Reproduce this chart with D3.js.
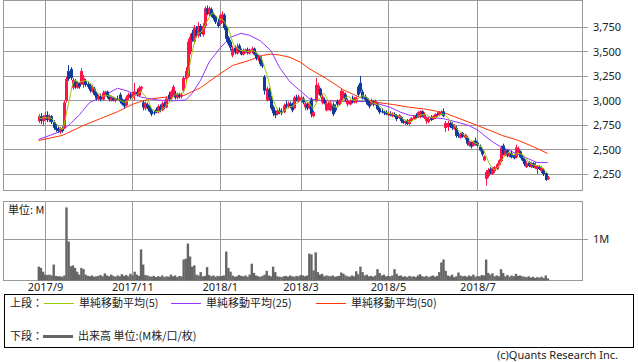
<!DOCTYPE html>
<html>
<head>
<meta charset="utf-8">
<script src="https://cdn.jsdelivr.net/npm/d3@7"></script>
<style>
  body { margin: 0; background: #fff; }
  svg { display: block; }
  text { font-family: "Noto Sans", "Noto Sans CJK JP", sans-serif; font-size: 11px; fill: #222; }
  .jp { font-family: "Noto Sans CJK JP", "Noto Sans", sans-serif; }
</style>
<title>chart</title>
</head>
<body>
<div id="chart"></div>
<script>
// daily bars, 2017/8/29 - 2018/8/17 (index = trading day)
var open = [
  2790,2840,2790,2830,2850,2800,2840,2780,2720,2710,
  2680,2715,2720,3000,3300,3320,3130,3200,3130,3180,
  3170,3160,3200,3170,3150,3090,3120,3070,3020,3040,
  3010,3060,3090,3040,3000,3030,3000,3020,3060,3010,
  3000,2950,3030,3060,3030,3050,3090,3050,3120,2980,
  2920,2960,2940,2900,2880,2910,2880,2940,2900,2970,
  2930,3060,3020,3060,3070,3030,3060,3040,3100,3220,
  3250,3500,3690,3600,3720,3660,3760,3670,3760,3940,
  3880,3930,3880,3860,3800,3780,3820,3870,3740,3640,
  3600,3460,3540,3480,3560,3510,3470,3490,3520,3480,
  3500,3530,3470,3420,3450,3370,3240,3000,3110,3030,
  2930,2880,2860,2900,2890,2880,2960,2940,2970,2960,
  2920,3030,2990,3000,3020,2930,2960,2920,3010,2840,
  2990,3080,3120,2980,3010,2900,2920,2900,2960,2930,
  2990,2960,3000,3040,3060,2960,2960,3000,2980,3000,
  3140,3180,3090,3040,3020,2980,2960,2990,2960,2960,
  2920,2890,2880,2880,2850,2870,2840,2860,2850,2820,
  2830,2790,2770,2790,2760,2790,2810,2850,2830,2840,
  2890,2820,2790,2780,2830,2810,2820,2860,2850,2860,
  2890,2720,2730,2770,2760,2710,2720,2660,2620,2670,
  2620,2620,2540,2570,2540,2590,2570,2530,2490,2390,
  2200,2230,2300,2250,2280,2300,2340,2380,2540,2440,
  2490,2430,2460,2440,2420,2470,2480,2420,2400,2320,
  2370,2320,2360,2310,2300,2320,2280,2290,2260,2200
];
var high = [
  2860,2870,2850,2880,2890,2860,2850,2800,2760,2740,
  2730,2740,3000,3240,3360,3340,3230,3220,3200,3190,
  3330,3260,3220,3190,3170,3160,3140,3090,3060,3070,
  3100,3100,3100,3060,3050,3040,3030,3050,3080,3020,
  3010,3050,3080,3080,3090,3180,3120,3150,3150,3000,
  2990,2980,2950,2920,2900,2930,2960,2960,2990,2990,
  3040,3090,3110,3160,3100,3080,3080,3080,3250,3340,
  3630,3680,3720,3770,3760,3800,3780,3790,3960,3970,
  3960,3950,3900,3870,3830,3880,3910,3890,3760,3660,
  3620,3560,3560,3580,3580,3530,3530,3530,3540,3530,
  3550,3540,3490,3470,3460,3400,3260,3140,3130,3050,
  2950,2900,2920,2930,2920,2970,3000,2990,2990,2980,
  3050,3060,3060,3050,3040,2990,2980,2990,3030,2900,
  3230,3180,3130,3070,3030,2990,2990,3000,2980,2960,
  3010,3010,3120,3100,3080,3020,3010,3050,3040,3040,
  3160,3250,3110,3060,3030,3000,3020,3000,3010,2980,
  2930,2920,2900,2900,2890,2890,2880,2880,2860,2860,
  2840,2810,2800,2810,2810,2830,2850,2870,2890,2900,
  2900,2880,2830,2830,2850,2850,2870,2880,2890,2900,
  2920,2790,2790,2790,2780,2760,2740,2680,2670,2680,
  2660,2640,2590,2580,2590,2620,2580,2550,2510,2440,
  2290,2310,2320,2320,2330,2360,2400,2540,2560,2510,
  2500,2470,2490,2450,2550,2530,2490,2440,2410,2380,
  2380,2370,2370,2370,2340,2340,2330,2310,2270,2230
];
var low = [
  2770,2760,2740,2800,2780,2780,2760,2700,2680,2670,
  2660,2670,2710,2980,3200,3210,3110,3120,3120,3120,
  3160,3130,3140,3120,3080,3080,3050,3000,3000,2990,
  3000,3040,3020,2990,2990,2990,2980,3000,2970,2950,
  2920,2940,3000,3010,3020,3000,3040,3040,3090,2900,
  2900,2910,2880,2840,2850,2870,2870,2880,2890,2910,
  2920,3000,3000,3040,3010,3010,3020,3020,3080,3180,
  3230,3470,3600,3580,3640,3640,3650,3650,3740,3870,
  3860,3850,3820,3780,3740,3770,3790,3720,3600,3560,
  3510,3440,3470,3470,3490,3460,3460,3480,3470,3470,
  3480,3460,3410,3400,3350,3330,3060,2990,3000,2900,
  2840,2820,2850,2860,2850,2870,2920,2920,2920,2880,
  2910,2990,2980,2980,2960,2900,2900,2910,2830,2830,
  2980,3060,3030,2960,2960,2890,2900,2890,2840,2880,
  2940,2950,2990,3020,2990,2940,2950,2970,2970,2970,
  3040,3080,3010,2990,2950,2920,2950,2940,2950,2900,
  2860,2870,2850,2850,2840,2840,2830,2830,2790,2810,
  2770,2760,2750,2750,2750,2780,2800,2810,2820,2820,
  2830,2810,2760,2770,2790,2800,2810,2840,2840,2850,
  2830,2680,2690,2720,2700,2700,2620,2620,2610,2620,
  2600,2540,2530,2510,2530,2540,2530,2480,2430,2380,
  2130,2210,2250,2240,2260,2290,2330,2370,2440,2430,
  2420,2420,2410,2400,2410,2460,2410,2380,2330,2310,
  2320,2310,2310,2300,2250,2290,2260,2230,2180,2190
];
var close = [
  2840,2790,2830,2850,2800,2840,2780,2720,2700,2690,
  2715,2690,2980,3220,3220,3230,3210,3140,3180,3140,
  3300,3230,3160,3140,3100,3140,3060,3020,3045,3010,
  3080,3090,3040,3010,3030,3000,3020,3005,2990,2960,
  2940,3030,3060,3030,3070,3090,3060,3130,3140,2930,
  2970,2930,2890,2860,2870,2880,2940,2900,2970,2930,
  3020,3010,3090,3140,3030,3060,3040,3060,3230,3300,
  3600,3650,3620,3740,3660,3760,3680,3760,3940,3890,
  3940,3870,3840,3800,3760,3870,3880,3740,3630,3580,
  3540,3530,3490,3550,3510,3470,3510,3520,3490,3520,
  3530,3470,3430,3450,3370,3350,3100,3120,3030,2920,
  2870,2850,2900,2880,2870,2950,2940,2970,2940,2900,
  3030,3000,3040,3030,2980,2970,2920,2970,2860,2880,
  3160,3150,3050,3040,2970,2970,2960,2980,2860,2900,
  2960,3000,3100,3080,3010,3000,2990,2980,3030,3020,
  3060,3100,3030,3010,2960,2940,3000,2960,2990,2910,
  2880,2880,2870,2860,2870,2850,2865,2840,2810,2850,
  2790,2770,2790,2760,2800,2820,2840,2820,2880,2890,
  2840,2860,2820,2810,2800,2840,2860,2850,2880,2880,
  2840,2770,2770,2740,2720,2740,2640,2640,2660,2630,
  2650,2560,2580,2530,2580,2560,2540,2490,2450,2430,
  2270,2290,2270,2310,2320,2350,2390,2520,2460,2490,
  2440,2460,2420,2410,2520,2510,2420,2390,2350,2360,
  2330,2360,2320,2340,2330,2300,2310,2250,2190,2215
];
// volume, millions
var volume = [
  .33,.30,.21,.14,.13,.14,.12,.38,.11,.10,
  .10,.09,.12,1.74,.93,.34,.36,.30,.21,.14,
  .30,.27,.14,.11,.10,.12,.09,.10,.11,.13,
  .10,.17,.12,.10,.14,.11,.09,.12,.10,.15,
  .11,.13,.10,.16,.12,.21,.14,.11,.74,.38,
  .13,.12,.10,.09,.11,.08,.10,.09,.12,.08,
  .10,.09,.14,.10,.12,.08,.11,.10,.50,.52,
  .88,.57,.33,.36,.14,.12,.20,.10,.11,.32,
  .13,.10,.12,.09,.11,.10,.11,.12,.69,.30,
  .21,.12,.09,.10,.13,.11,.10,.12,.09,.14,
  .40,.18,.12,.10,.09,.11,.14,.23,.12,.10,
  .33,.20,.10,.09,.08,.10,.11,.09,.12,.10,
  .09,.11,.10,.13,.12,.10,.12,.64,.62,.24,
  .67,.20,.14,.16,.10,.12,.11,.10,.12,.09,
  .10,.11,.19,.16,.12,.10,.09,.12,.10,.22,
  .15,.33,.20,.12,.14,.10,.11,.09,.12,.27,
  .18,.12,.14,.10,.11,.10,.12,.27,.16,.11,
  .12,.09,.10,.08,.11,.09,.10,.08,.12,.15,
  .10,.09,.11,.08,.10,.12,.09,.11,.20,.43,
  .50,.23,.12,.10,.14,.08,.10,.19,.12,.10,
  .11,.09,.12,.10,.14,.09,.11,.10,.13,.12,
  .50,.18,.14,.17,.10,.12,.10,.27,.18,.10,
  .13,.09,.12,.10,.16,.11,.12,.10,.09,.08,
  .10,.07,.09,.06,.08,.07,.09,.06,.12,.05
];
// moving averages at these bar indices
var ma25Idx = [0,11,15,19,24,29,37,42,48,56,62,69,72,76,80,85,90,95,99,104,109,113,118,123,127,132,143,155,159,165,170,174,180,190,198,202,206,210,213,217,221,224,230,234,239];
var ma25 = [2602,2690,2765,2850,2980,3030,3125,3095,3035,3005,2995,3005,3070,3205,3390,3530,3645,3685,3665,3610,3510,3340,3190,3095,3020,3000,2990,2990,2970,2930,2880,2850,2835,2815,2770,2745,2700,2630,2580,2525,2490,2460,2405,2367,2367];
var ma50Idx = [0,11,13,21,29,37,44,48,52,60,68,76,84,91,99,105,109,113,118,123,127,135,143,151,159,166,174,182,190,198,206,213,218,225,232,239];
var ma50 = [2592,2643,2662,2745,2815,2885,2960,2990,3015,3035,3050,3130,3255,3357,3410,3460,3472,3465,3440,3390,3325,3225,3110,3030,2980,2960,2932,2910,2878,2812,2745,2685,2640,2595,2530,2460];

var monthIdx = [3,44,85,123,164,206];
var monthLabels = ["2017/9","2017/11","2018/1","2018/3","2018/5","2018/7"];
var priceTicks = [2250,2500,2750,3000,3250,3500,3750];

var W = 638, H = 362;
var left = 3.5, right = 582.5;
var pTop = 0.5, pBot = 190.5, vTop = 201.5, vBot = 280.5;

var x = d3.scaleLinear().domain([0, 239]).range([38.6, 547.7]);
var y = d3.scaleLinear().domain([2081.6, 4020.4]).range([pBot, pTop]);
var yv = d3.scaleLinear().domain([0, 1.881]).range([vBot, vTop]);

var svg = d3.select("#chart").append("svg")
    .attr("width", W)
    .attr("height", H);

svg.append("rect").attr("width", W).attr("height", H).attr("fill", "#fff");

var grid = "#9a9a9a";

// price panel grid
svg.selectAll("line.hy").data(priceTicks).enter().append("line")
    .attr("x1", left).attr("x2", 588)
    .attr("y1", function (d) { return Math.round(y(d)) + 0.5; })
    .attr("y2", function (d) { return Math.round(y(d)) + 0.5; })
    .attr("stroke", grid);

svg.selectAll("line.vx").data(monthIdx).enter().append("line")
    .attr("x1", function (d) { return Math.round(x(d)) + 0.5; })
    .attr("x2", function (d) { return Math.round(x(d)) + 0.5; })
    .attr("y1", pTop).attr("y2", pBot)
    .attr("stroke", grid);

svg.append("rect")
    .attr("x", left).attr("y", pTop)
    .attr("width", right - left).attr("height", pBot - pTop)
    .attr("fill", "none").attr("stroke", grid);

// volume panel grid
svg.append("line")
    .attr("x1", left).attr("x2", 588)
    .attr("y1", Math.round(yv(1)) + 0.5).attr("y2", Math.round(yv(1)) + 0.5)
    .attr("stroke", grid);

svg.selectAll("line.vv").data(monthIdx).enter().append("line")
    .attr("x1", function (d) { return Math.round(x(d)) + 0.5; })
    .attr("x2", function (d) { return Math.round(x(d)) + 0.5; })
    .attr("y1", vTop).attr("y2", vBot)
    .attr("stroke", grid);

svg.append("rect")
    .attr("x", left).attr("y", vTop)
    .attr("width", right - left).attr("height", vBot - vTop)
    .attr("fill", "none").attr("stroke", grid);

// moving averages
var ma5 = close.map(function (c, i) {
    var s = close.slice(Math.max(0, i - 4), i + 1);
    return d3.mean(s);
});

var line = d3.line()
    .x(function (d) { return x(d[0]); })
    .y(function (d) { return y(d[1]); });

svg.append("path")
    .datum(ma50Idx.map(function (d, i) { return [d, ma50[i]]; }))
    .attr("d", line).attr("fill", "none").attr("stroke", "#ff3300").attr("stroke-width", 1);

svg.append("path")
    .datum(ma25Idx.map(function (d, i) { return [d, ma25[i]]; }))
    .attr("d", line).attr("fill", "none").attr("stroke", "#9933ff").attr("stroke-width", 1);

// candles
var up = "#ff1248", down = "#0f3c9c";
var candles = svg.append("g").selectAll("g").data(close).enter().append("g");

candles.append("line")
    .attr("x1", function (d, i) { return Math.round(x(i)) + 0.5; })
    .attr("x2", function (d, i) { return Math.round(x(i)) + 0.5; })
    .attr("y1", function (d, i) { return y(high[i]); })
    .attr("y2", function (d, i) { return y(low[i]); })
    .attr("stroke", function (d, i) { return d >= open[i] ? up : down; });

candles.append("rect")
    .attr("x", function (d, i) { return Math.round(x(i)) - 1; })
    .attr("width", 3)
    .attr("y", function (d, i) { return y(Math.max(d, open[i])); })
    .attr("height", function (d, i) { return Math.max(1, Math.abs(y(d) - y(open[i]))); })
    .attr("fill", function (d, i) { return d >= open[i] ? up : down; });

svg.append("path")
    .datum(ma5.map(function (d, i) { return [i, d]; }))
    .attr("d", line).attr("fill", "none").attr("stroke", "#99cc00").attr("stroke-width", 1);

// volume bars
svg.append("g").selectAll("rect").data(volume).enter().append("rect")
    .attr("x", function (d, i) { return x(i) - 1; })
    .attr("width", 2.4)
    .attr("y", function (d) { return yv(d); })
    .attr("height", function (d) { return vBot - yv(d); })
    .attr("fill", "#666");

// axes
var yAxis = d3.axisRight(y).tickValues(priceTicks).tickSize(0).tickPadding(5)
    .tickFormat(d3.format(","));
svg.append("g").attr("transform", "translate(588,0)").call(yAxis)
    .call(function (g) { g.select(".domain").remove(); })
    .selectAll("text").attr("font-family", null).attr("font-size", null);

var vAxis = d3.axisRight(yv).tickValues([1]).tickSize(0).tickPadding(5)
    .tickFormat(function (d) { return d + "M"; });
svg.append("g").attr("transform", "translate(588,0)").call(vAxis)
    .call(function (g) { g.select(".domain").remove(); })
    .selectAll("text").attr("font-family", null).attr("font-size", null);

var xAxis = d3.axisBottom(x).tickValues(monthIdx).tickSize(0).tickPadding(3)
    .tickFormat(function (d, i) { return monthLabels[i]; });
svg.append("g").attr("transform", "translate(0," + vBot + ")").call(xAxis)
    .call(function (g) { g.select(".domain").remove(); })
    .selectAll("text").attr("font-family", null).attr("font-size", null);

svg.append("text").attr("class", "jp").attr("x", 8).attr("y", 214).text("単位: M");

// legend box
svg.append("rect").attr("x", 4.5).attr("y", 294.5).attr("width", 629).attr("height", 53)
    .attr("fill", "none").attr("stroke", "#000");

var leg = svg.append("g").attr("class", "jp");
leg.append("text").attr("class", "jp").attr("x", 10).attr("y", 307).text("上段：");
var items = [
    { x: 44, color: "#99cc00", label: "単純移動平均(5)" },
    { x: 171, color: "#9933ff", label: "単純移動平均(25)" },
    { x: 316, color: "#ff3300", label: "単純移動平均(50)" }
];
items.forEach(function (it) {
    leg.append("line").attr("x1", it.x).attr("x2", it.x + 30)
        .attr("y1", 303.5).attr("y2", 303.5).attr("stroke", it.color);
    leg.append("text").attr("class", "jp").attr("x", it.x + 35).attr("y", 307).text(it.label);
});
leg.append("text").attr("class", "jp").attr("x", 10).attr("y", 340).text("下段：");
leg.append("line").attr("x1", 43).attr("x2", 73).attr("y1", 336.5).attr("y2", 336.5)
    .attr("stroke", "#666").attr("stroke-width", 3);
leg.append("text").attr("class", "jp").attr("x", 78).attr("y", 340).text("出来高 単位:(M株/口/枚)");

svg.append("text").attr("x", 618).attr("y", 359).attr("text-anchor", "end")
    .attr("fill", "#444").text("(c)Quants Research Inc.");
</script>
</body>
</html>
